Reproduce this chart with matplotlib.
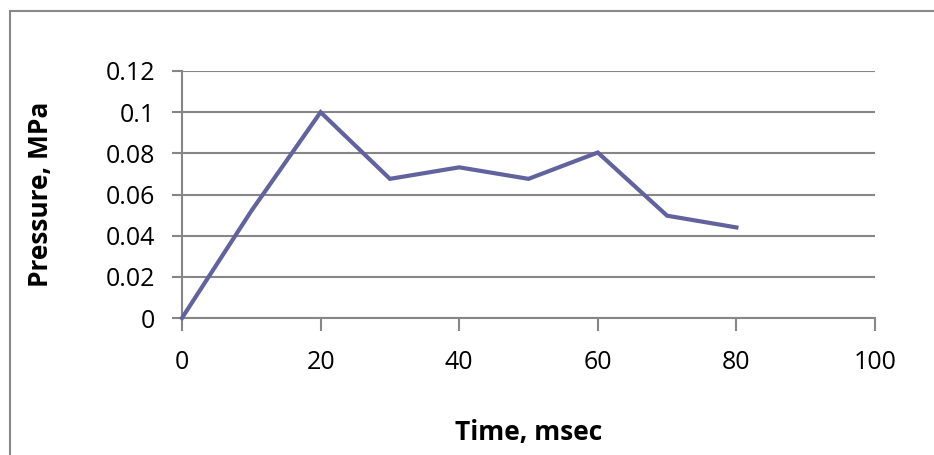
import matplotlib
matplotlib.use("Agg")
import matplotlib.pyplot as plt
from matplotlib.patches import Rectangle

time_ms = [0, 10, 20, 30, 40, 50, 60, 70, 80]
pressure_mpa = [0.0, 0.052, 0.1, 0.0676, 0.0732, 0.0676, 0.0804, 0.0497, 0.044]
x_ticks = [0, 20, 40, 60, 80, 100]
y_ticks = [0, 0.02, 0.04, 0.06, 0.08, 0.1, 0.12]
y_tick_labels = ["0", "0.02", "0.04", "0.06", "0.08", "0.1", "0.12"]

plt.rcParams['font.family'] = ['Open Sans', 'DejaVu Sans']

W, H = 934, 455
fig = plt.figure(figsize=(W / 100, H / 100), dpi=100)
ax = fig.add_axes([182 / W, 1 - 318 / H, (875 - 182) / W, (318 - 71) / H])

grid_c = '#868686'
ax.plot(time_ms, pressure_mpa, color='#62629E', lw=3.0, solid_joinstyle='miter', zorder=3, clip_on=False)
ax.set_xlim(0, 100)
ax.set_ylim(0, 0.12)
ax.set_xticks(x_ticks)
ax.set_yticks(y_ticks)
ax.set_yticklabels(y_tick_labels)
ax.yaxis.grid(True, color=grid_c, lw=1.5)
ax.set_axisbelow(True)
for s in ['top', 'right']:
    ax.spines[s].set_visible(False)
for s in ['left', 'bottom']:
    ax.spines[s].set_color(grid_c)
    ax.spines[s].set_linewidth(1.5)
ax.tick_params(axis='y', direction='out', length=7.5, width=1.5, color=grid_c, labelsize=18, pad=12)
ax.tick_params(axis='x', direction='out', length=9, width=1.5, color=grid_c, labelsize=18, pad=14)
ax.set_xlabel('Time, msec', fontsize=19, fontweight='bold', labelpad=32)
ax.set_ylabel('Pressure, MPa', fontsize=19, fontweight='bold', labelpad=37)

# outer chart border
fig.patches.append(Rectangle((10 / W, -0.05), 1.1, 1 - 11 / H + 0.05, transform=fig.transFigure,
                             fill=False, edgecolor='#888888', lw=1.5))

fig.savefig('out.png', dpi=100)
